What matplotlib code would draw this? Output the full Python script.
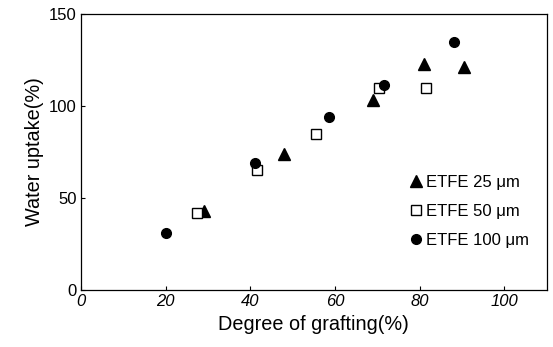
import matplotlib
matplotlib.use("Agg")
import matplotlib.pyplot as plt

plt.rcParams['font.family'] = ['Liberation Sans', 'DejaVu Sans']

# ETFE 25 um
x25 = [29, 48, 69, 81, 90.5]
y25 = [43, 74, 103, 123, 121]
# ETFE 50 um
x50 = [27.5, 41.5, 55.5, 70.5, 81.5]
y50 = [42, 65, 85, 110, 110]
# ETFE 100 um
x100 = [20, 41, 58.5, 71.5, 88]
y100 = [31, 69, 94, 111.5, 135]

xticks = [0, 20, 40, 60, 80, 100]
yticks = [0, 50, 100, 150]

fig = plt.figure(figsize=(5.53, 3.47), dpi=100)
ax = fig.add_axes([0.1465, 0.164, 0.842, 0.796])

ax.plot(x25, y25, '^', color='black', markersize=8, linestyle='none', label='ETFE 25 \u03bcm')
ax.plot(x50, y50, 's', markerfacecolor='white', markeredgecolor='black', markersize=7,
        markeredgewidth=1, linestyle='none', label='ETFE 50 \u03bcm')
ax.plot(x100, y100, 'o', color='black', markersize=7, linestyle='none', label='ETFE 100 \u03bcm')

ax.set_xlim(0, 110)
ax.set_ylim(0, 150)
ax.set_xticks(xticks)
ax.set_yticks(yticks)
ax.set_xticklabels([str(t) for t in xticks], fontstyle='italic', fontsize=12)
ax.set_yticklabels([str(t) for t in yticks], fontsize=12)
ax.tick_params(direction='in', length=3, width=0.8, pad=3)

ax.set_xlabel('Degree of grafting(%)', fontsize=14.3, labelpad=4)
ax.set_ylabel('Water uptake(%)', fontsize=14.3, labelpad=4)

for s in ax.spines.values():
    s.set_linewidth(0.9)

ax.legend(loc='center left', bbox_to_anchor=(0.687, 0.285), frameon=False,
          fontsize=12, handlelength=0.8, handletextpad=0.2, labelspacing=0.85,
          borderpad=0)

fig.savefig('out.png', dpi=100)
